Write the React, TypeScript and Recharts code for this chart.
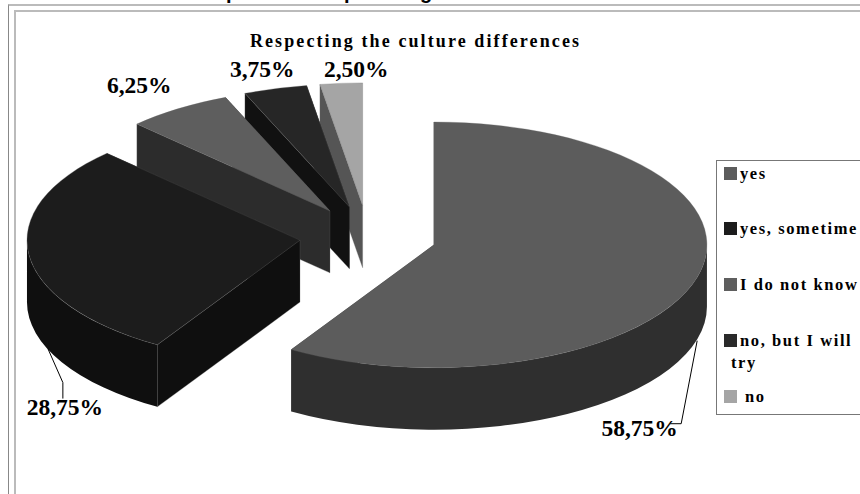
import React from "react";
import { PieChart, Pie, Legend } from "recharts";

const CATEGORIES = ["yes", "yes, sometime", "I do not know", "no, but I will try", "no"];
const VALUES = [58.75, 28.75, 6.25, 3.75, 2.5];
const TOP_COLORS = ["#5c5c5c", "#1c1c1c", "#5e5e5e", "#262626", "#a5a5a5"];
const SIDE_COLORS = ["#2f2f2f", "#0f0f0f", "#2c2c2c", "#111111", "#555555"];
const SWATCH_COLORS = ["#5c5c5c", "#1c1c1c", "#5e5e5e", "#2a2a2a", "#a5a5a5"];

// painted back to front, so the list runs the other way round the pie
const rows = CATEGORIES.map((name, i) => ({
  name,
  value: VALUES[i],
  fill: TOP_COLORS[i],
  side: SIDE_COLORS[i],
})).reverse();

const SERIF = '"Liberation Serif", serif';

// pie projection
const CX = 368;
const CY = 236.5;
const RX = 273;
const TILT = 0.45;
const DEPTH = 62;
const EXPLODE = 68.5;

// label centre relative to the slice's rim point, with its leader line
const LABEL_LAYOUT: Record<string, { dx: number; dy: number; leader?: number[][] }> = {
  yes: { dx: -57, dy: 157.5, leader: [[57.5, -95], [41.5, -12], [30.5, -12]] },
  "yes, sometime": { dx: 36, dy: 160, leader: [[-17, -66], [-2, -32], [-2, -16]] },
  "I do not know": { dx: -39, dy: -16 },
  "no, but I will try": { dx: -13, dy: -12 },
  no: { dx: 15, dy: -6.5 },
};

const rad = (deg: number) => (deg * Math.PI) / 180;

// clockwise-from-top angles of a sector
const clockRange = (p: any) => {
  let from = 90 - p.endAngle;
  let to = 90 - p.startAngle;
  if (from < 0) {
    from += 360;
    to += 360;
  }
  return [from, to];
};

const Slice3D = (p: any) => {
  const [from, to] = clockRange(p);
  const r = p.outerRadius;
  const ry = r * TILT;
  const mid = (from + to) / 2;
  const ax = p.cx + EXPLODE * Math.sin(rad(mid));
  const ay = p.cy - EXPLODE * TILT * Math.cos(rad(mid));
  const pt = (a: number, drop = 0) =>
    `${ax + r * Math.sin(rad(a))} ${ay - ry * Math.cos(rad(a)) + drop}`;
  const arc = `${r} ${ry} 0`;
  const large = to - from > 180 ? 1 : 0;

  const radialWall = (a: number) =>
    `M${ax} ${ay} L${pt(a)} L${pt(a, DEPTH)} L${ax} ${ay + DEPTH} Z`;

  // only the part of the rim on the near half has a visible wall
  const wallFrom = Math.max(from, 90);
  const wallTo = Math.min(to, 270);

  return (
    <g>
      <path d={radialWall(to)} fill={p.side} />
      <path d={radialWall(from)} fill={p.side} stroke="#666" strokeWidth={0.3} />
      {wallTo > wallFrom && (
        <path
          d={`M${pt(wallFrom)} A${arc} 0 1 ${pt(wallTo)} L${pt(wallTo, DEPTH)} A${arc} 0 0 ${pt(wallFrom, DEPTH)} Z`}
          fill={p.side}
        />
      )}
      <path
        d={`M${ax} ${ay} L${pt(from)} A${arc} ${large} 1 ${pt(to)} Z`}
        fill={p.fill}
        stroke="#666"
        strokeWidth={0.3}
      />
    </g>
  );
};

const SliceLabel = (p: any) => {
  const layout = LABEL_LAYOUT[p.name];
  const [from, to] = clockRange(p);
  const mid = (from + to) / 2;
  const rimX = p.cx + (p.outerRadius + EXPLODE) * Math.sin(rad(mid));
  const rimY = p.cy - (p.outerRadius + EXPLODE) * TILT * Math.cos(rad(mid));
  const x = rimX + layout.dx;
  const y = rimY + layout.dy;
  return (
    <g>
      {layout.leader && (
        <polyline
          points={layout.leader.map(([lx, ly]) => `${x + lx},${y + ly}`).join(" ")}
          fill="none"
          stroke="#000"
          strokeWidth={1}
        />
      )}
      <text x={x} y={y} textAnchor="middle" fontFamily={SERIF} fontWeight={700} fontSize={23.5} fill="#000">
        {p.value.toFixed(2).replace(".", ",") + "%"}
      </text>
    </g>
  );
};

const LEGEND_TOPS = [166, 221, 277, 333, 389];

const LegendBox = () => (
  <div
    style={{
      position: "relative",
      width: 200,
      height: 255,
      border: "1px solid #777",
      boxSizing: "border-box",
      fontFamily: SERIF,
      fontWeight: 700,
      fontSize: 16.5,
      letterSpacing: 1.6,
      color: "#000",
    }}
  >
    {CATEGORIES.map((name, i) => {
      const top = LEGEND_TOPS[i] - 160;
      const wrapped = name === "no, but I will try";
      return (
        <React.Fragment key={name}>
          <div style={{ position: "absolute", left: 7, top, width: 13, height: 13, background: SWATCH_COLORS[i] }} />
          <div style={{ position: "absolute", left: name === "no" ? 28 : 23, top: top - 2, whiteSpace: "nowrap", lineHeight: "18px" }}>
            {wrapped ? "no, but I will" : name}
          </div>
          {wrapped && (
            <div style={{ position: "absolute", left: 14, top: top + 20, whiteSpace: "nowrap", lineHeight: "18px" }}>try</div>
          )}
        </React.Fragment>
      );
    })}
  </div>
);

const App = () => (
  <div style={{ position: "absolute", left: 0, top: 0, width: 860, height: 494, overflow: "hidden", background: "#fff" }}>
    <div style={{ position: "absolute", left: 8, top: 4, right: -4, bottom: -4, borderTop: "2px solid #bbb", borderLeft: "1px solid #888" }} />
    <div style={{ position: "absolute", left: 14, top: 10, right: -4, bottom: -4, borderTop: "2px solid #bbb", borderLeft: "2px solid #bbb" }} />
    <PieChart width={860} height={494} margin={{ top: 0, right: 0, bottom: 0, left: 0 }}>
      <text fontFamily='"Liberation Sans", sans-serif' fontWeight={700} fontSize={20} fill="#000" y={-1}>
        <tspan x={226}>p</tspan>
        <tspan x={344}>p</tspan>
        <tspan x={420}>g</tspan>
      </text>
      <text x={415.5} y={47} textAnchor="middle" fontFamily={SERIF} fontWeight={700} fontSize={18} letterSpacing={2.1} fill="#000">
        Respecting the culture differences
      </text>
      <Pie
        data={rows}
        dataKey="value"
        nameKey="name"
        cx={CX}
        cy={CY}
        innerRadius={0}
        outerRadius={RX}
        startAngle={90}
        endAngle={450}
        shape={Slice3D}
        label={SliceLabel}
        labelLine={false}
        isAnimationActive={false}
      />
      <Legend content={LegendBox} wrapperStyle={{ position: "absolute", left: 716, top: 160, width: 200, height: 255, bottom: "auto" }} />
    </PieChart>
  </div>
);

export default App;
